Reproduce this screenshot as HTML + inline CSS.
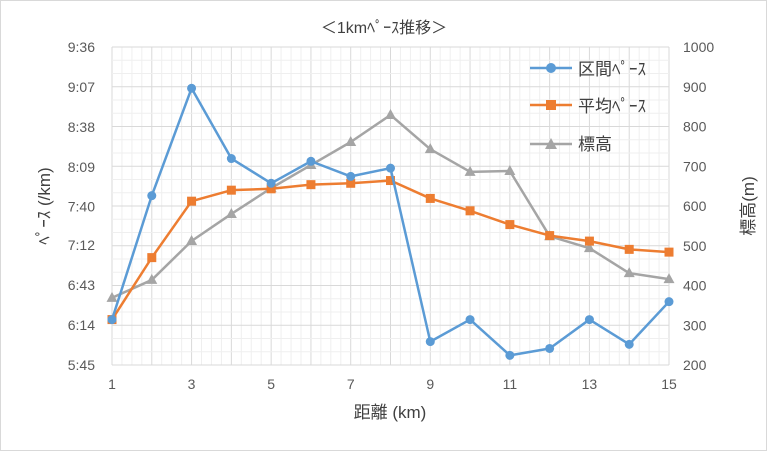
<!DOCTYPE html>
<html><head><meta charset="utf-8">
<style>
body{margin:0;background:#fff;}
svg{display:block;font-family:"Liberation Sans","Noto Sans CJK JP",sans-serif;}
</style></head>
<body>
<svg id="c" width="767" height="451" viewBox="0 0 767 451">
<rect x="0.5" y="0.5" width="766" height="450" fill="#fff" stroke="#d9d9d9"/>
<g id="grid"></g>
<g id="axes"></g>
<g id="series"></g>
<text x="384" y="33" font-size="16" text-anchor="middle" fill="#404040">＜1kmﾍﾟｰｽ推移＞</text>
<text x="390" y="418" font-size="17" text-anchor="middle" fill="#404040">距離 (km)</text>
<text transform="translate(50,206) rotate(-90)" font-size="17" text-anchor="middle" fill="#404040">ﾍﾟｰｽ (/km)</text>
<text transform="translate(754,206) rotate(-90)" font-size="17" text-anchor="middle" fill="#404040">標高(m)</text>
<g>
<g><line x1="530" y1="68" x2="572" y2="68" stroke="#5b9bd5" stroke-width="2.5"/><circle cx="551" cy="68" r="5" fill="#5b9bd5"/><text x="578" y="75" font-size="17" fill="#404040">区間ﾍﾟｰｽ</text></g>
<g><line x1="530" y1="105" x2="572" y2="105" stroke="#ed7d31" stroke-width="2.5"/><rect x="546" y="100" width="10" height="10" fill="#ed7d31"/><text x="578" y="112" font-size="17" fill="#404040">平均ﾍﾟｰｽ</text></g>
<g><line x1="530" y1="144" x2="572" y2="144" stroke="#a5a5a5" stroke-width="2.5"/><polygon points="551,138 557,149 545,149" fill="#a5a5a5"/><text x="578" y="150" font-size="17" fill="#404040">標高</text></g>
</g>
</svg>
<script>
const distances=[1,2,3,4,5,6,7,8,9,10,11,12,13,14,15];
const intervalPace=[378,468,546,495,477,493,482,488,362,378,352,357,378,360,391];
const averagePace=[378,423,464,472,473,476,477,479,466,457,447,439,435,429,427];
const elevation=[369,414,512,580,645,703,761,829,743,686,688,524,494,431,416];
const leftTicks=[345,374,403,432,460,489,518,547,576];
const rightTicks=[200,300,400,500,600,700,800,900,1000];
const xTicks=[1,3,5,7,9,11,13,15];

const L=112,R=669,T=47,B=365;
const xs=v=>L+(v-1)/(14)*(R-L);
const yl=v=>B-(v-345)/(576-345)*(B-T);
const yr=v=>B-(v-200)/800*(B-T);
const NS="http://www.w3.org/2000/svg";
function mk(tag,attrs,parent){const e=document.createElementNS(NS,tag);for(const k in attrs)e.setAttribute(k,attrs[k]);document.getElementById(parent).appendChild(e);return e;}
function fmt(s){const m=Math.floor(s/60),r=s%60;return m+":"+(r<10?"0":"")+r;}

for(let i=0;i<=14*4;i++){const x=L+i*(R-L)/56;const e=mk('line',{x1:x,x2:x,y1:T,y2:B,stroke:i%4==0?'#d9d9d9':'#efefef','stroke-width':1},'grid');

}
for(let i=0;i<=24;i++){const y=T+i*(B-T)/24;const e=mk('line',{x1:L,x2:R,y1:y,y2:y,stroke:i%3==0?'#d9d9d9':'#efefef','stroke-width':1},'grid');

}
leftTicks.forEach(v=>{const t=mk('text',{x:L-17,y:yl(v)+5,'font-size':14,'text-anchor':'end',fill:'#595959'},'axes');t.textContent=fmt(v);

});
rightTicks.forEach(v=>{const t=mk('text',{x:R+14,y:yr(v)+5,'font-size':14,fill:'#595959'},'axes');t.textContent=v;

});
xTicks.forEach(v=>{const t=mk('text',{x:xs(v),y:B+24,'font-size':14,'text-anchor':'middle',fill:'#595959'},'axes');t.textContent=v;

});

function series(vals,yf,color,shape,name){
  const p=mk('polyline',{points:vals.map((v,i)=>xs(distances[i])+','+yf(v)).join(' '),fill:'none',stroke:color,'stroke-width':2.5,'stroke-linejoin':'round'},'series');
  
  
  vals.forEach((v,i)=>{const x=xs(distances[i]),y=yf(v);let m;
    if(shape=='c')m=mk('circle',{cx:x,cy:y,r:4.5,fill:color},'series');
    else if(shape=='s')m=mk('rect',{x:x-4.5,y:y-4.5,width:9,height:9,fill:color},'series');
    else m=mk('polygon',{points:`${x},${y-6} ${x+5.5},${y+4} ${x-5.5},${y+4}`,fill:color},'series');
    
    });
}
series(elevation,yr,'#a5a5a5','t','elevation');
series(averagePace,yl,'#ed7d31','s','average-pace');
series(intervalPace,yl,'#5b9bd5','c','interval-pace');
</script>
</body></html>
